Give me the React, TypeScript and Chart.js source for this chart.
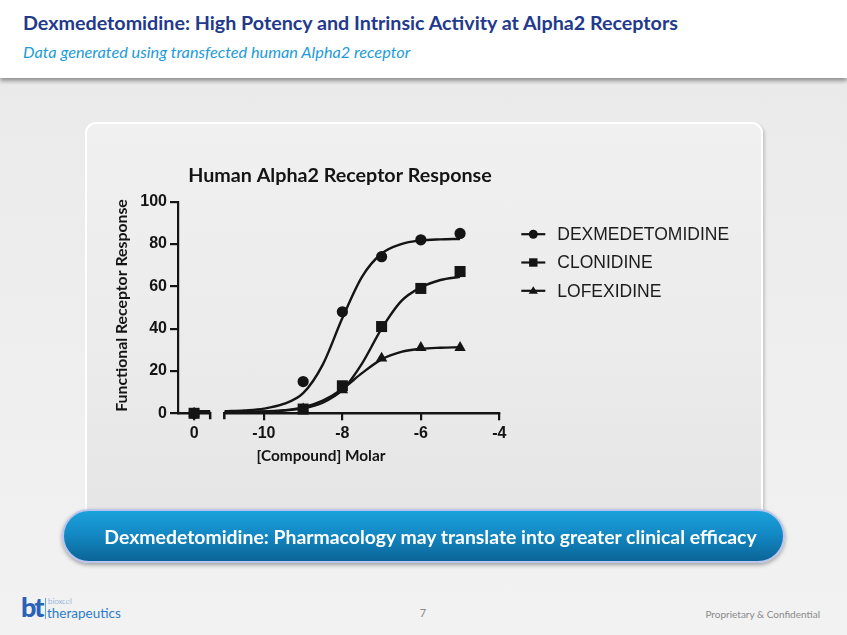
import React, { useEffect, useRef } from "react";
import { Chart, registerables } from "chart.js";

Chart.register(...registerables);

// ---------- data ----------
const SERIES_LABELS = ["DEXMEDETOMIDINE", "CLONIDINE", "LOFEXIDINE"];
const POINT_STYLES = ["circle", "rect", "triangle"];

// log10 molar concentrations of the measured points
const DOSE_LOG = [-9, -8, -7, -6, -5];
// position (on the log axis) of the "0" concentration group, shown on the broken part of the axis
const ZERO_DOSE_POS = -11.78;

const DEX_RESP = [15, 48, 74, 82, 85];
const CLO_RESP = [2, 13, 41, 59, 67];
const LOF_RESP = [2, 11, 26, 31, 31];
const ZERO_RESP = [0, 0, 0]; // dex, clo, lof at zero concentration

// fitted curves
const FIT_X = [-11, -10.5, -10, -9.5, -9, -8.5, -8, -7.5, -7, -6.5, -6, -5.5, -5];
const DEX_FIT = [1.0, 1.4, 2.2, 4.4, 9.5, 23, 45, 64.5, 75.5, 80, 81.7, 82.2, 82.4];
const CLO_FIT = [0.6, 0.7, 0.9, 1.3, 2.3, 5, 11, 23.5, 40, 53, 59.5, 63, 64.5];
const LOF_FIT = [0.5, 0.6, 0.9, 1.4, 2.8, 6, 11.5, 19, 25.5, 29, 30.5, 31, 31.2];

// fitted baseline drawn across the "0" part of the broken axis
const ZERO_SEG_X = [-11.78, -11.37];
const ZERO_SEG_FIT = [1.0, 0.6, 0.5];

const X_MIN = -12.19;
const X_MAX = -4;
const X_TICKS = [ZERO_DOSE_POS, -10, -8, -6, -4];
const Y_TICKS = [0, 20, 40, 60, 80, 100];
const AXIS_BREAK = [-11.37, -11.01];

const CHART_TITLE = "Human Alpha2 Receptor Response";
const Y_TITLE = "Functional Receptor Response";
const X_TITLE = "[Compound] Molar";

const INK = "#141414";
const TICK_FONT = { family: '"Liberation Sans", Arial, sans-serif', size: 16, weight: "bold" as const };

function curveData(fit: number[], zeroFit: number) {
  const pts: { x: number; y: number | null }[] = [];
  ZERO_SEG_X.forEach((x) => pts.push({ x, y: zeroFit }));
  pts.push({ x: (AXIS_BREAK[0] + AXIS_BREAK[1]) / 2, y: null });
  FIT_X.forEach((x, i) => pts.push({ x, y: fit[i] }));
  return pts;
}

function pointData(resp: number[], zero: number) {
  return [{ x: ZERO_DOSE_POS, y: zero }, ...DOSE_LOG.map((x, i) => ({ x, y: resp[i] }))];
}

function drawMarker(ctx: CanvasRenderingContext2D, style: string, x: number, y: number, s: number) {
  ctx.beginPath();
  if (style === "circle") {
    ctx.arc(x, y, s, 0, Math.PI * 2);
  } else if (style === "rect") {
    ctx.rect(x - s, y - s, 2 * s, 2 * s);
  } else {
    const h = s * 1.8;
    ctx.moveTo(x, y - h * 0.6);
    ctx.lineTo(x + s * 1.1, y + h * 0.4);
    ctx.lineTo(x - s * 1.1, y + h * 0.4);
    ctx.closePath();
  }
  ctx.fill();
}

const decorPlugin = {
  id: "decor",
  beforeDatasetsDraw(chart: any) {
    const { ctx, chartArea, scales } = chart;
    const x = scales.x;
    const y = scales.y;
    const y0 = y.getPixelForValue(0);
    const lx1 = x.getPixelForValue(AXIS_BREAK[0]);
    const rx0 = x.getPixelForValue(AXIS_BREAK[1]);
    ctx.save();
    ctx.strokeStyle = INK;
    ctx.lineWidth = 2.5;
    ctx.beginPath();
    ctx.moveTo(chartArea.left - 1, y0);
    ctx.lineTo(lx1, y0);
    ctx.lineTo(lx1, y0 + 6);
    ctx.moveTo(rx0, y0 + 6);
    ctx.lineTo(rx0, y0);
    ctx.lineTo(chartArea.right + 1, y0);
    ctx.stroke();
    ctx.restore();
  },
  afterDraw(chart: any) {
    const { ctx, chartArea } = chart;
    ctx.save();
    ctx.fillStyle = INK;
    ctx.textBaseline = "middle";
    ctx.textAlign = "center";
    // chart title
    ctx.font = 'bold 19.7px Lato, "Open Sans", sans-serif';
    ctx.fillText(CHART_TITLE, chartArea.left + 162, chartArea.top - 26);
    // x title
    ctx.font = 'bold 15.4px Lato, "Open Sans", sans-serif';
    ctx.fillText(X_TITLE, chartArea.left + 143, chartArea.bottom + 43);
    // y title
    ctx.font = 'bold 15.8px Lato, "Open Sans", sans-serif';
    ctx.save();
    ctx.translate(chartArea.left - 56, (chartArea.top + chartArea.bottom) / 2 - 2);
    ctx.rotate(-Math.PI / 2);
    ctx.fillText(Y_TITLE, 0, 0);
    ctx.restore();
    // legend
    ctx.textAlign = "left";
    ctx.font = '17.5px "Liberation Sans", Arial, sans-serif';
    SERIES_LABELS.forEach((label, i) => {
      const ly = chartArea.top + 32.5 + i * 28.3;
      const lx = chartArea.right + 22;
      ctx.strokeStyle = INK;
      ctx.lineWidth = 2.2;
      ctx.beginPath();
      ctx.moveTo(lx, ly);
      ctx.lineTo(lx + 24, ly);
      ctx.stroke();
      ctx.fillStyle = INK;
      drawMarker(ctx, POINT_STYLES[i], lx + 12, ly, POINT_STYLES[i] === "circle" ? 4.5 : 4.2);
      ctx.fillStyle = "#1c1c1c";
      ctx.fillText(label, chartArea.right + 58, ly + 1);
    });
    ctx.restore();
  },
};

function AlphaChart() {
  const ref = useRef<HTMLCanvasElement | null>(null);
  useEffect(() => {
    if (!ref.current) return;
    const fits = [DEX_FIT, CLO_FIT, LOF_FIT];
    const resps = [DEX_RESP, CLO_RESP, LOF_RESP];
    const datasets: any[] = [];
    SERIES_LABELS.forEach((label, i) => {
      datasets.push({
        label: label + " fit",
        data: curveData(fits[i], ZERO_SEG_FIT[i]),
        borderColor: INK,
        borderWidth: 2.4,
        pointRadius: 0,
        cubicInterpolationMode: "monotone",
        spanGaps: false,
        clip: false,
        fill: false,
      });
      datasets.push({
        label,
        data: pointData(resps[i], ZERO_RESP[i]),
        showLine: false,
        pointStyle: POINT_STYLES[i],
        pointRadius: POINT_STYLES[i] === "circle" ? 5.6 : POINT_STYLES[i] === "rect" ? 7.8 : 6.6,
        pointBackgroundColor: INK,
        pointBorderColor: INK,
        pointBorderWidth: 0,
        clip: false,
      });
    });
    const chart = new Chart(ref.current, {
      type: "line",
      data: { datasets },
      options: {
        animation: false,
        responsive: false,
        maintainAspectRatio: false,
        events: [],
        layout: { padding: { left: 42, right: 262.7, top: 78.7, bottom: 54.7 } },
        plugins: { legend: { display: false }, tooltip: { enabled: false }, title: { display: false } },
        scales: {
          x: {
            type: "linear",
            min: X_MIN,
            max: X_MAX,
            afterBuildTicks: (s: any) => {
              s.ticks = X_TICKS.map((v) => ({ value: v }));
            },
            afterFit: (s: any) => {
              s.height = 40;
            },
            grid: { drawOnChartArea: false, drawTicks: true, tickLength: 7, color: INK, lineWidth: 2.2 },
            border: { display: false },
            ticks: {
              autoSkip: false,
              maxRotation: 0,
              padding: 4,
              color: INK,
              font: TICK_FONT,
              callback: (v: any) => (Math.abs(Number(v) - ZERO_DOSE_POS) < 1e-6 ? "0" : String(v)),
            },
          },
          y: {
            type: "linear",
            min: 0,
            max: 100,
            afterBuildTicks: (s: any) => {
              s.ticks = Y_TICKS.map((v) => ({ value: v }));
            },
            afterFit: (s: any) => {
              s.width = 50;
            },
            grid: { drawOnChartArea: false, drawTicks: true, tickLength: 8, color: INK, lineWidth: 2.2 },
            border: { display: true, color: INK, width: 2.2 },
            ticks: { padding: 3, color: INK, font: TICK_FONT },
          },
        },
      },
      plugins: [decorPlugin],
    } as any);
    return () => chart.destroy();
  }, []);
  return (
    <canvas
      ref={ref}
      width={676}
      height={385}
      style={{ position: "absolute", left: 86, top: 123, width: 676, height: 385, display: "block", zIndex: 2 }}
    />
  );
}

export default function App() {
  const sans = 'Lato, "Open Sans", "Noto Sans", sans-serif';
  return (
    <div
      style={{
        position: "fixed",
        left: 0,
        top: 0,
        width: 847,
        height: 635,
        overflow: "hidden",
        background: "linear-gradient(180deg, #e9e9e9 0%, #eeeeee 50%, #f2f2f2 100%)",
        fontFamily: sans,
      }}
    >
      {/* header */}
      <div
        style={{
          position: "absolute",
          left: 0,
          top: 0,
          width: 847,
          height: 78,
          background: "#ffffff",
          boxShadow: "0 3px 4px rgba(0,0,0,0.38)",
          zIndex: 3,
        }}
      >
        <div
          style={{
            position: "absolute",
            left: 23,
            top: 13,
            fontSize: 19.7,
            lineHeight: "20px",
            fontWeight: 700,
            color: "#22398c",
            whiteSpace: "nowrap",
          }}
        >
          Dexmedetomidine: High Potency and Intrinsic Activity at Alpha2 Receptors
        </div>
        <div
          style={{
            position: "absolute",
            left: 23,
            top: 44,
            fontSize: 16.3,
            lineHeight: "16px",
            fontStyle: "italic",
            color: "#1d9bd8",
            whiteSpace: "nowrap",
          }}
        >
          Data generated using transfected human Alpha2 receptor
        </div>
      </div>

      {/* panel */}
      <div
        style={{
          position: "absolute",
          left: 85,
          top: 122,
          width: 678,
          height: 400,
          boxSizing: "border-box",
          borderRadius: 11,
          border: "2.5px solid #ffffff",
          background: "linear-gradient(180deg, #f0f0f0 0%, #ebebeb 60%, #e5e5e5 100%)",
          boxShadow: "2px 2px 3px rgba(0,0,0,0.16)",
          zIndex: 1,
        }}
      />

      <AlphaChart />

      {/* banner */}
      <div
        style={{
          position: "absolute",
          left: 62,
          top: 509,
          width: 723,
          height: 54,
          boxSizing: "border-box",
          borderRadius: 27,
          border: "2px solid #b9c5ee",
          background: "linear-gradient(180deg, #1ba2dc 0%, #1389c5 45%, #0b6597 100%)",
          boxShadow: "0 2px 4px rgba(0,0,0,0.35)",
          zIndex: 4,
          display: "flex",
          alignItems: "center",
          justifyContent: "center",
          paddingLeft: 14,
          color: "#ffffff",
          fontSize: 19.4,
          fontWeight: 700,
          whiteSpace: "nowrap",
        }}
      >
        Dexmedetomidine: Pharmacology may translate into greater clinical efficacy
      </div>

      {/* footer */}
      <div style={{ position: "absolute", left: 21, top: 593, width: 110, height: 30, zIndex: 4 }}>
        <div
          style={{
            position: "absolute",
            left: 0,
            top: 0,
            fontSize: 27,
            lineHeight: "27px",
            fontWeight: 900,
            color: "#2a62b8",
            letterSpacing: -2,
          }}
        >
          bt
        </div>
        <div style={{ position: "absolute", left: 24, top: 5, width: 1, height: 21, background: "#5aa6de" }} />
        <div
          style={{
            position: "absolute",
            left: 27,
            top: 4,
            fontSize: 8,
            lineHeight: "8px",
            color: "#4d86c9",
            fontWeight: 300,
          }}
        >
          bioxcel
        </div>
        <div
          style={{
            position: "absolute",
            left: 26,
            top: 13,
            fontSize: 13.5,
            lineHeight: "14px",
            color: "#2c7cc9",
            fontWeight: 400,
          }}
        >
          therapeutics
        </div>
      </div>
      <div
        style={{
          position: "absolute",
          left: 417,
          top: 607,
          width: 12,
          textAlign: "center",
          fontSize: 11,
          lineHeight: "12px",
          color: "#8a8a8a",
        }}
      >
        7
      </div>
      <div
        style={{
          position: "absolute",
          right: 27,
          top: 608,
          fontSize: 10,
          lineHeight: "12px",
          color: "#8a8a8a",
          whiteSpace: "nowrap",
        }}
      >
        Proprietary &amp; Confidential
      </div>
    </div>
  );
}
